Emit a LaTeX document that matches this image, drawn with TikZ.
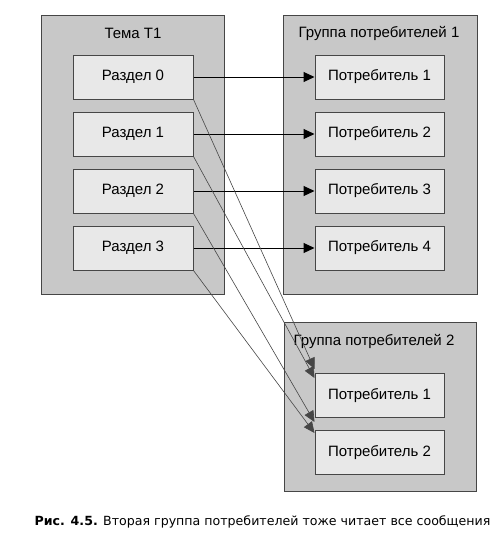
\documentclass[tikz,border=0pt]{standalone}
\usepackage{fontspec}
\setmainfont{Liberation Sans}
\newfontfamily\capfont{DejaVu Sans}
\usetikzlibrary{arrows.meta}
\definecolor{outergray}{RGB}{200,200,200}
\definecolor{innergray}{RGB}{232,232,232}
\definecolor{edgegray}{RGB}{70,70,70}
\begin{document}
\begin{tikzpicture}[x=1pt,y=-1pt,
groupbox/.style={draw=edgegray,fill=outergray,line width=1pt},
itembox/.style={draw=edgegray,fill=innergray,line width=1pt,rectangle,minimum height=44pt,inner sep=0pt,font=\fontsize{15}{18}\selectfont},
part/.style={itembox,minimum width=120pt},
cons/.style={itembox,minimum width=129pt},
title/.style={font=\fontsize{15}{18}\selectfont},
feed/.style={-{Triangle[length=11pt,width=10pt]},line width=1pt},
fanout/.style={-{Triangle[length=11pt,width=10pt]},line width=0.6pt,color=edgegray}]
\useasboundingbox (0,0) rectangle (501,536);
\draw[groupbox] (41,15) rectangle (224,294);
\draw[groupbox] (283,15) rectangle (477,294);
\draw[groupbox] (284,322) rectangle (476,491);
\draw (133,33) node[title] (topic) {Тема T1};
\draw (379,33) node[title] (grp1) {Группа потребителей 1};
\draw (374,341) node[title] (grp2) {Группа потребителей 2};
\foreach \i/\j/\y in {0/1/77,1/2/134,2/3/191,3/4/248}{
  \node[part] (p\i) at (133,\y) {Раздел \i};
  \node[cons] (c\j) at (379.5,\y) {Потребитель \j};
  \draw[feed] (p\i) -- (c\j);
}
\node[cons] (d1) at (379.5,395.5) {Потребитель 1};
\node[cons] (d2) at (379.5,452.5) {Потребитель 2};
\coordinate (d1a) at ([yshift=4pt]d1.north west);
\coordinate (d1b) at ([yshift=-5pt]d1.north west);
\coordinate (d2a) at ([yshift=8pt]d2.north west);
\coordinate (d2b) at ([yshift=-3pt]d2.north west);
\draw[fanout] (p0.south east) -- (d1a);
\draw[fanout] (p1.south east) -- (d1b);
\draw[fanout] (p2.south east) -- (d2a);
\draw[fanout] (p3.south east) -- (d2b);
\node[anchor=base west,font=\capfont\fontsize{12.6}{15}\selectfont] (caption) at (31,525) {\textbf{Рис. 4.5.} Вторая группа потребителей тоже читает все сообщения};
\end{tikzpicture}
\end{document}
